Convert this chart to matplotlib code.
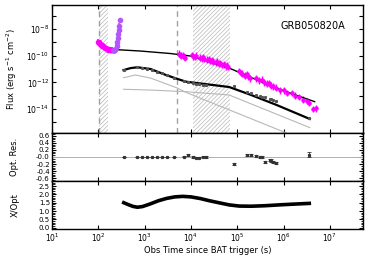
import numpy as np
import matplotlib
matplotlib.use("Agg")
import matplotlib.pyplot as plt
from matplotlib.ticker import FixedLocator, NullLocator, MultipleLocator

plt.rcParams['font.family'] = ['DejaVu Sans']
plt.rcParams['hatch.color'] = '#b8b8b8'
plt.rcParams['hatch.linewidth'] = 0.5

# X-ray data (log10 flux)
xr_early_t = [98, 102, 106, 110, 114, 118, 123, 128, 134, 140, 147, 155, 163, 172, 181, 190, 200, 212]
xr_early_f = [-8.95, -9.0, -9.05, -9.1, -9.2, -9.2, -9.25, -9.3, -9.35, -9.45, -9.45, -9.5, -9.55, -9.5, -9.55, -9.6, -9.55, -9.6]
xr_purple_t = [205, 215, 225, 235, 245, 258]
xr_purple_f = [-9.6, -9.65, -9.6, -9.55, -9.45, -9.05]
flare_t = [248, 255, 262, 270, 278, 286, 295]
flare_f = [-9.3, -9.0, -8.7, -8.4, -8.1, -7.75, -7.35]
xr_late_t = [5400, 5800, 6200, 6600, 7000, 7500,
             10500, 11200, 12000, 12800, 16000, 17000, 18000, 19500, 22000, 24000, 26000,
             28000, 30000, 34000, 37000, 40000, 43000, 48000, 52000, 56000, 60000, 64000,
             110000, 120000, 130000, 145000, 160000, 175000, 190000,
             260000, 300000, 340000, 380000, 430000, 480000, 540000, 600000,
             700000, 850000, 1000000, 1200000, 1500000, 1800000, 2200000, 2700000, 3200000,
             3600000, 4300000, 5000000]
xr_late_f = [-9.85, -9.95, -10.0, -9.95, -10.1, -10.15,
             -9.95, -10.05, -10.1, -10.0, -10.15, -10.2, -10.1, -10.25, -10.3, -10.25, -10.4,
             -10.35, -10.45, -10.5, -10.45, -10.6, -10.55, -10.7, -10.65, -10.8, -10.75, -10.85,
             -11.15, -11.3, -11.35, -11.5, -11.4, -11.55, -11.7,
             -11.7, -11.85, -11.8, -12.0, -12.1, -12.05, -12.25, -12.3,
             -12.4, -12.6, -12.6, -12.8, -12.8, -13.0, -13.1, -13.3, -13.4,
             -13.55, -14.0, -13.95]

# X-ray model
xmod_t = [98, 135, 182, 815, 3700, 10000, 67000, 710000, 4700000]
xmod_f = [-9.03, -9.35, -9.52, -9.65, -9.84, -10.03, -10.93, -12.45, -13.45]

# optical model and its two components
omod_t = [350, 500, 700, 1350, 2900, 5200, 7800, 16500, 67000, 200000, 710000, 3700000]
omod_f = [-11.08, -10.93, -10.87, -11.0, -11.45, -11.75, -11.95, -12.09, -12.35, -12.95, -13.7, -14.75]
comp1_t = [350, 640, 1350, 5100, 7800, 1.15e6]
comp1_f = [-11.65, -11.45, -11.68, -12.43, -12.75, -15.8]
comp2_t = [350, 1350, 7800, 67000, 3700000]
comp2_f = [-12.52, -12.58, -12.7, -12.95, -15.4]

# optical data and residuals
opt_t = [355, 690, 890, 1150, 1470, 1890, 2430, 3120, 4340, 6930, 8730, 10900, 12850, 15150,
         17950, 21200, 87300, 164800, 194500, 258800, 305400, 344500, 392000, 503000,
         548000, 597000, 680000, 3550000]
opt_f = [-11.08, -10.87, -10.9, -10.97, -11.05, -11.2, -11.33, -11.47, -11.65, -11.9, -11.98,
         -12.05, -12.1, -12.13, -12.17, -12.2, -12.3, -12.75, -12.8, -12.95, -13.05, -13.1,
         -13.1, -13.25, -13.28, -13.3, -13.4, -14.7]
opt_res = [0.0, 0.0, 0.0, 0.0, 0.0, 0.0, 0.0, 0.0, 0.0, 0.01, 0.05, 0.0, -0.02, -0.02,
           0.01, 0.0, -0.2, 0.045, 0.045, 0.04, 0.0, 0.01, -0.14, -0.08, -0.1, -0.13, -0.17, 0.065]
opt_err = [0.01, 0.01, 0.01, 0.01, 0.01, 0.01, 0.01, 0.01, 0.01, 0.02, 0.03, 0.02, 0.02, 0.02,
           0.02, 0.02, 0.03, 0.03, 0.03, 0.03, 0.03, 0.03, 0.03, 0.03, 0.03, 0.03, 0.03, 0.07]

# X/Opt ratio
ratio_t = [355, 450, 560, 700, 900, 1300, 2000, 3000, 4500, 6600, 10000, 16000, 25000, 40000,
           67000, 110000, 200000, 400000, 800000, 1500000, 3600000]
ratio_v = [1.5, 1.38, 1.28, 1.23, 1.27, 1.42, 1.62, 1.76, 1.85, 1.88, 1.85, 1.75, 1.62, 1.5,
           1.37, 1.3, 1.29, 1.32, 1.37, 1.41, 1.46]

dashed_t = [105, 5100]
hatch_spans = [(105, 162), (11200, 69000)]
grb_name = 'GRB050820A'

fig = plt.figure(figsize=(3.74, 2.67), dpi=100)
L, W = 0.139, 0.832
ax1 = fig.add_axes([L, 0.502, W, 0.479])
ax2 = fig.add_axes([L, 0.322, W, 0.180])
ax3 = fig.add_axes([L, 0.142, W, 0.180])

mag = '#ff00ff'
vio = '#b455ff'


def logerr(f, d):
    f = 10 ** np.array(f)
    return [f * (1 - 10 ** -d), f * (10 ** d - 1)]


for t0, t1 in hatch_spans:
    ax1.axvspan(t0, t1, facecolor='none', edgecolor='#b8b8b8', hatch='////////', linewidth=0)
for t in dashed_t:
    ax1.axvline(t, color='#a0a0a0', linestyle=(0, (4, 3)), linewidth=1.0)

p = lambda v: 10 ** np.array(v)
ax1.plot(comp1_t, p(comp1_f), color='#b8b8b8', lw=0.8)
ax1.plot(comp2_t, p(comp2_f), color='#b8b8b8', lw=0.8)
ax1.plot(omod_t, p(omod_f), color='black', lw=1.6)
ax1.plot(opt_t, p(opt_f), 's', color='#555555', ms=1.2)

ax1.errorbar(xr_early_t, p(xr_early_f), yerr=logerr(xr_early_f, 0.18),
             xerr=np.array(xr_early_t) * 0.04, fmt='o', ms=3, color=mag, elinewidth=1.2, capsize=0)
ax1.errorbar(xr_purple_t, p(xr_purple_f), yerr=logerr(xr_purple_f, 0.15),
             fmt='o', ms=2.5, color=vio, elinewidth=1.0, capsize=0)
ax1.errorbar(flare_t, p(flare_f), yerr=logerr(flare_f, 0.2),
             xerr=np.array(flare_t) * 0.025, fmt='o', ms=3, color=vio, elinewidth=1.2, capsize=0)
ax1.errorbar(xr_late_t, p(xr_late_f), yerr=logerr(xr_late_f, 0.26),
             xerr=np.array(xr_late_t) * 0.06, fmt='o', ms=2.2, color=mag, elinewidth=1.0, capsize=0)
ax1.plot(xmod_t, p(xmod_f), color='black', lw=1.0)

ax1.text(0.735, 0.84, grb_name, transform=ax1.transAxes, fontsize=7, va='center')

ax1.set_xscale('log')
ax1.set_yscale('log')
ax1.set_ylim(10 ** -15.8, 10 ** -6.2)
ax1.yaxis.set_major_locator(FixedLocator([10.0 ** k for k in range(-15, -6)]))
ax1.yaxis.set_minor_locator(NullLocator())
ax1.set_yticklabels(['' if k % 2 else '10$^{%d}$' % k for k in range(-15, -6)])
ax1.set_ylabel('Flux (erg s$^{-1}$ cm$^{-2}$)', fontsize=6)

ax2.axhline(0, color='#b0b0b0', lw=0.7)
ax2.errorbar(opt_t, opt_res, yerr=opt_err, fmt='s', ms=1.3, color='#333333', elinewidth=0.6,
             capsize=1.2, capthick=0.6)
ax2.set_xscale('log')
ax2.set_ylim(-0.68, 0.68)
ax2.yaxis.set_major_locator(FixedLocator([-0.6, -0.4, -0.2, 0.0, 0.2, 0.4, 0.6]))
ax2.set_yticklabels(['-0.6', '-0.4', '-0.2', '-0.0', '0.2', '0.4', '0.6'])
ax2.yaxis.set_minor_locator(MultipleLocator(0.05))
ax2.set_ylabel('Opt. Res.', fontsize=6)

ax3.plot(ratio_t, ratio_v, color='black', lw=2.6)
ax3.set_xscale('log')
ax3.set_ylim(-0.08, 2.8)
ax3.set_yticks([0, 0.5, 1.0, 1.5, 2.0, 2.5])
ax3.set_yticklabels(['0.0', '0.5', '1.0', '1.5', '2.0', '2.5'])
ax3.yaxis.set_minor_locator(MultipleLocator(0.1))
ax3.set_ylabel('X/Opt', fontsize=6)
ax3.set_xlabel('Obs Time since BAT trigger (s)', fontsize=6, labelpad=1)

xt = [10.0 ** k for k in range(1, 8)]
for ax in (ax1, ax2, ax3):
    ax.set_xlim(10, 10 ** 7.72)
    ax.xaxis.set_major_locator(FixedLocator(xt))
    ax.xaxis.set_minor_locator(NullLocator())
    ax.tick_params(which='both', direction='in', top=True, right=True, labelsize=5.5, pad=2)
    ax.tick_params(which='major', length=3, width=0.8)
    ax.tick_params(which='minor', length=1.8, width=0.6)
    for s in ax.spines.values():
        s.set_linewidth(1.0)
    ax.yaxis.set_label_coords(-0.105, 0.5)
ax2.tick_params(axis='y', labelsize=5, pad=1.5)
ax3.tick_params(axis='y', labelsize=5, pad=1.5)
ax1.set_xticklabels([])
ax2.set_xticklabels([])
ax3.set_xticklabels(['10$^{%d}$' % k for k in range(1, 8)])

fig.savefig('out.png', dpi=100)
